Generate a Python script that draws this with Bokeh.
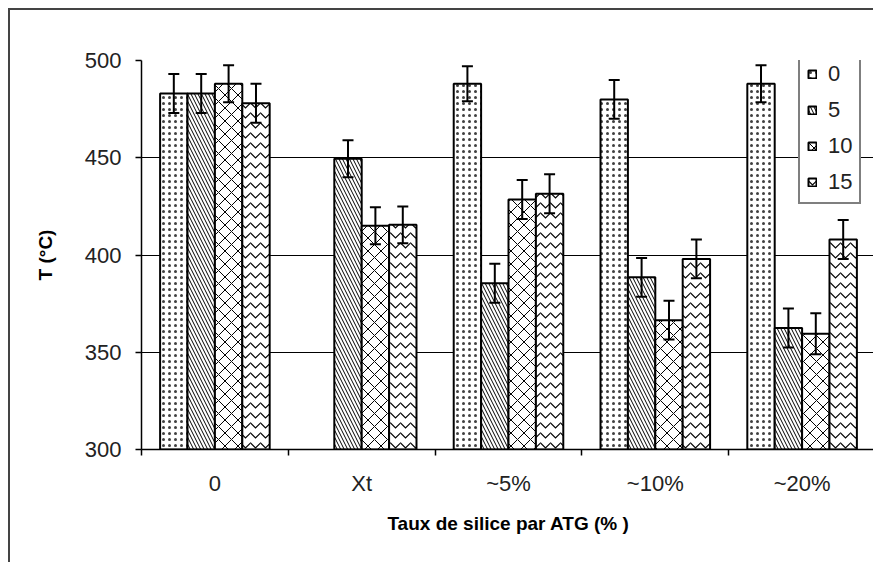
from bokeh.plotting import figure
from bokeh.models import (ColumnDataSource, Range1d, FixedTicker, Whisker, TeeHead,
                          Legend, LegendItem)
from bokeh.embed import file_html
from bokeh.resources import INLINE

categories = ["0", "Xt", "~5%", "~10%", "~20%"]
series = ["0", "5", "10", "15"]
t_0 = [483, None, 488, 480, 488]
t_5 = [483, 449.5, 385.5, 388.5, 362.5]
t_10 = [488, 415, 428.5, 366.5, 359.5]
t_15 = [478, 415.5, 431.5, 398, 408]
err_0 = [10, None, 9, 10, 9.5]
err_5 = [10, 9.5, 10, 10, 10]
err_10 = [9.5, 9.5, 10, 10, 10.5]
err_15 = [10, 9.5, 10, 10, 10]
y_ticks = [300, 350, 400, 450, 500]

values = [t_0, t_5, t_10, t_15]
errors = [err_0, err_5, err_10, err_15]
hatches = [".", "\\", "x", "v"]
hatch_scales = [6, 7, 13, 10]
hatch_weights = [1, 1, 1, 1.2]
hatch_alphas = [0.75, 1, 1, 1]

FONT = "Liberation Sans"

p = figure(width=865, height=554, output_backend="svg", toolbar_location=None,
           x_range=Range1d(0, 5), y_range=Range1d(300, 500),
           min_border_left=131, min_border_right=0, min_border_top=50,
           min_border_bottom=115)
p.styles = {"margin-left": "8px", "margin-top": "8px",
            "border-left": "2px solid #444", "border-top": "2px solid #444"}
p.outline_line_color = None
p.background_fill_color = "white"

bw = 0.1866
offsets = [-1.5 * bw, -0.5 * bw, 0.5 * bw, 1.5 * bw]
items = []
for k in range(4):
    xs, tops, lo, hi = [], [], [], []
    for i in range(len(categories)):
        v = values[k][i]
        if v is None:
            continue
        xs.append(i + 0.5 + offsets[k])
        tops.append(v)
        lo.append(v - errors[k][i])
        hi.append(v + errors[k][i])
    src = ColumnDataSource(dict(x=xs, top=tops, lower=lo, upper=hi))
    r = p.vbar(x="x", top="top", bottom=300, width=bw, source=src,
               fill_color="white", line_color="black", line_width=2,
               hatch_pattern=hatches[k], hatch_color="black",
               hatch_scale=hatch_scales[k], hatch_weight=hatch_weights[k],
               hatch_alpha=hatch_alphas[k])
    items.append(LegendItem(label=series[k], renderers=[r]))
    w = Whisker(source=src, base="x", upper="upper", lower="lower",
                dimension="height", line_color="black", line_width=2,
                level="annotation",
                upper_head=TeeHead(size=11, line_width=2, line_color="black"),
                lower_head=TeeHead(size=11, line_width=2, line_color="black"))
    p.add_layout(w)

# axes
p.xgrid.visible = False
p.ygrid.grid_line_color = "black"
p.ygrid.grid_line_width = 1
p.yaxis.ticker = FixedTicker(ticks=y_ticks)
p.yaxis.axis_label = "T (°C)"
p.yaxis.axis_label_text_font = FONT
p.yaxis.axis_label_text_font_style = "bold"
p.yaxis.axis_label_text_font_size = "19px"
p.yaxis.axis_label_text_color = "black"
p.yaxis.axis_label_standoff = 26
p.yaxis.major_label_text_font = FONT
p.yaxis.major_label_text_font_size = "22px"
p.yaxis.major_label_text_color = "#222"
p.yaxis.major_label_standoff = 14
p.yaxis.major_tick_in = 0
p.yaxis.major_tick_out = 6
p.yaxis.minor_tick_line_color = None
p.yaxis.axis_line_color = "black"
p.yaxis.axis_line_width = 1.5
p.yaxis.major_tick_line_width = 1.5

centers = [i + 0.5 for i in range(len(categories))]
p.xaxis.ticker = FixedTicker(ticks=centers, minor_ticks=list(range(len(categories) + 1)))
p.xaxis.major_label_overrides = {c: lab for c, lab in zip(centers, categories)}
p.xaxis.major_tick_in = 0
p.xaxis.major_tick_out = 0
p.xaxis.minor_tick_in = 0
p.xaxis.minor_tick_out = 6
p.xaxis.minor_tick_line_width = 1.5
p.xaxis.minor_tick_line_color = "black"
p.xaxis.axis_line_color = "black"
p.xaxis.axis_line_width = 1.5
p.xaxis.major_label_text_font = FONT
p.xaxis.major_label_text_font_size = "22px"
p.xaxis.major_label_text_color = "#222"
p.xaxis.major_label_standoff = 15
p.xaxis.axis_label = "Taux de silice par ATG (% )"
p.xaxis.axis_label_text_font = FONT
p.xaxis.axis_label_text_font_style = "bold"
p.xaxis.axis_label_text_font_size = "19px"
p.xaxis.axis_label_text_color = "black"
p.xaxis.axis_label_standoff = 14

legend = Legend(items=items, location=(657, 245), orientation="vertical",
                padding=7, spacing=10, margin=0,
                glyph_width=10, glyph_height=10, label_standoff=11,
                label_height=25, label_text_font=FONT, label_text_font_size="22px",
                label_text_color="#222", border_line_color="black",
                border_line_width=2, background_fill_color="white",
                background_fill_alpha=1)
p.add_layout(legend)

open("out.html", "w").write(file_html(p, INLINE))
